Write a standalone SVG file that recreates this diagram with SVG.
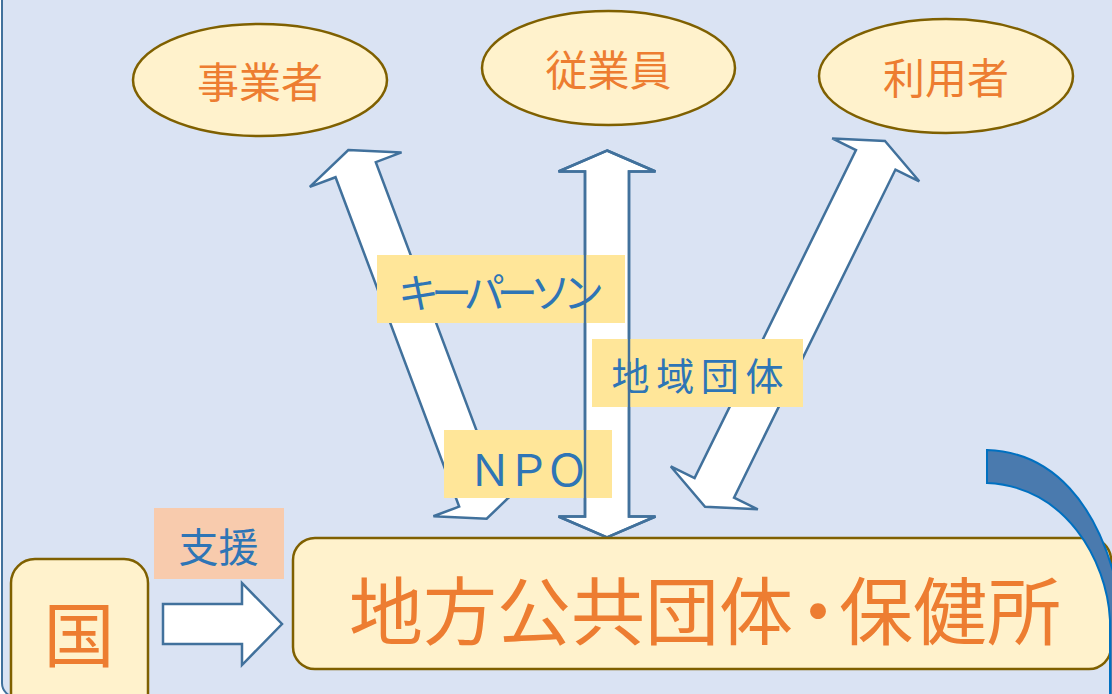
<svg xmlns="http://www.w3.org/2000/svg" xmlns:xlink="http://www.w3.org/1999/xlink" width="1112" height="694" viewBox="0 0 1112 694">
<style>
.t{font-family:"Noto Sans CJK JP","Noto Sans",sans-serif;dominant-baseline:central;text-anchor:middle}
.or{fill:#ed7d31}
.bl{fill:#2e75b6}
.ell{fill:#fff2cc;stroke:#7f6000;stroke-width:2.5}
.arr{fill:#ffffff;stroke:#41719c;stroke-width:2.5;stroke-linejoin:miter}
.lab{fill:#ffe699}
.palt{font-feature-settings:"palt" 1}
</style>
<defs>
<polygon id="midArrow" points="0,0 48.5,21 22,21 22,366 48.5,366 0,387 -48.5,366 -22,366 -22,21 -48.5,21"/>
</defs>
<rect x="2" y="-30" width="1140" height="727" rx="14" fill="#dae3f3" stroke="#41719c" stroke-width="2"/>

<g id="node-jigyosha">
<ellipse class="ell" cx="260" cy="80" rx="127" ry="56"/>
<text class="t or" x="260" y="79" font-size="42">事業者</text>
</g>
<g id="node-jugyoin">
<ellipse class="ell" cx="608.5" cy="68" rx="126.5" ry="57"/>
<text class="t or" x="608.5" y="67" font-size="42">従業員</text>
</g>
<g id="node-riyosha">
<ellipse class="ell" cx="946" cy="76" rx="127" ry="57"/>
<text class="t or" x="946" y="75" font-size="42">利用者</text>
</g>

<g id="connectors">
<polygon class="arr" transform="translate(348.3,150) rotate(-20.57)" points="0,0 49,21 21.5,21 21.5,372.8 49,372.8 0,393.8 -49,372.8 -21.5,372.8 -21.5,21 -49,21"/>
<use xlink:href="#midArrow" href="#midArrow" class="arr" transform="translate(607,150.5)"/>
<polygon class="arr" transform="translate(885,141) rotate(26.2)" points="0,0 48.5,21 22,21 22,386.6 48.5,386.6 0,407.6 -48.5,386.6 -22,386.6 -22,21 -48.5,21"/>
<polygon class="arr" points="163,604 242,604 242,583 282,624 242,665 242,644 163,644"/>
</g>

<g id="label-keyperson">
<rect class="lab" x="377" y="255" width="248" height="68"/>
<text class="t bl" x="501" y="290" font-size="41" textLength="206" lengthAdjust="spacing">キーパーソン</text>
</g>
<g id="label-chiikidantai">
<rect class="lab" x="592" y="339" width="211" height="68"/>
<text class="t bl" x="697.5" y="373" font-size="38" textLength="172" lengthAdjust="spacing">地域団体</text>
</g>
<g id="label-npo">
<rect class="lab" x="444" y="430" width="168" height="68"/>
<text class="t bl" x="528.5" y="467" font-size="43" textLength="120" lengthAdjust="spacing">ＮＰＯ</text>
</g>
<g id="mid-outline">
<use xlink:href="#midArrow" href="#midArrow" fill="none" stroke="#41719c" stroke-width="2.5" transform="translate(607,150.5)"/>
</g>

<g id="label-shien">
<rect x="154" y="508" width="130" height="71" fill="#f8cbad"/>
<text class="t bl" x="218.5" y="545" font-size="40">支援</text>
</g>

<g id="node-kuni">
<rect class="ell" x="11" y="559" width="137" height="160" rx="24"/>
<text class="t or" x="79" y="630" font-size="71">国</text>
</g>

<g id="node-chihou">
<rect class="ell" x="293" y="538" width="818" height="131" rx="22"/>
<text class="t or" y="606" font-size="74" style="text-anchor:start"><tspan x="349">地方公共団体</tspan><tspan class="palt" x="818" style="text-anchor:middle">・</tspan><tspan x="839" style="text-anchor:start">保健所</tspan></text>
</g>

<g id="curved-arrow">
<path d="M987,450 C1050,452 1100,500 1120,600 L1120,700 L1110,700 L1110,620 C1107,560 1065,486 987,483 Z" fill="#4a7aae" stroke="#0070c0" stroke-width="2"/>
</g>
</svg>
